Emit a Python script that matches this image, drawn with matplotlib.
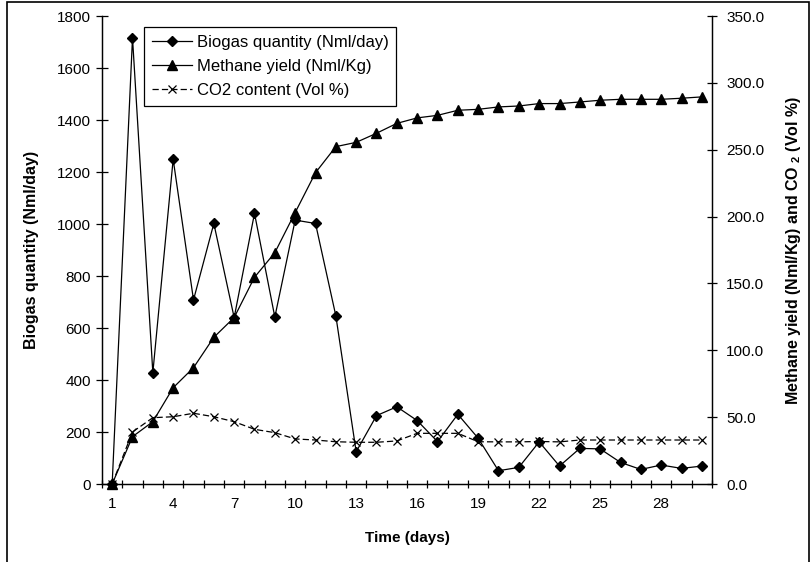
import matplotlib
matplotlib.use("Agg")
import matplotlib.pyplot as plt
from matplotlib.patches import Rectangle
from matplotlib.ticker import FixedLocator, FormatStrFormatter

plt.rcParams['font.family'] = ['Liberation Sans', 'DejaVu Sans']

# data
days = list(range(1, 31))
biogas = [0, 1716, 428, 1249, 708, 1002, 640, 1041, 642, 1015, 1002, 647, 124, 263, 297,
          244, 163, 268, 176, 51, 64, 162, 69, 137, 135, 83, 56, 73, 60, 69]
methane = [0, 35.4, 46.6, 72.0, 87.0, 109.7, 124.5, 154.6, 173.0, 203.0, 232.8, 252.3, 255.5,
           262.3, 269.7, 273.8, 275.7, 279.5, 280.2, 282.0, 282.7, 284.5, 284.5, 285.7, 287.0,
           287.7, 287.7, 287.7, 288.5, 289.5]
co2 = [0, 38.9, 49.6, 50.3, 52.9, 50.3, 46.6, 40.9, 38.4, 33.7, 32.9, 31.6, 31.2, 31.2, 32.2,
       37.9, 37.9, 37.9, 31.6, 31.5, 31.5, 31.8, 31.5, 32.9, 32.9, 32.9, 32.9, 32.9, 32.9, 32.9]
xlabels = [1, 4, 7, 10, 13, 16, 19, 22, 25, 28]

fig = plt.figure(figsize=(8.11, 5.62), dpi=100)
ax = fig.add_axes([102 / 811, 1 - 484 / 562, 610 / 811, 468 / 562])
ax2 = ax.twinx()

l1, = ax.plot(days, biogas, color='black', lw=0.9, marker='D', ms=5, clip_on=False,
              label='Biogas quantity (Nml/day)', zorder=3)
l2, = ax2.plot(days, methane, color='black', lw=0.9, marker='^', ms=6.5, clip_on=False,
               label='Methane yield (Nml/Kg)', zorder=3)
l3, = ax2.plot(days, co2, color='black', lw=0.9, ls=(0, (5, 2.5)), marker='x', ms=6,
               mew=0.9, clip_on=False, label='CO2 content (Vol %)', zorder=3)

ax.set_xlim(0.5, 30.5)
ax.set_ylim(0, 1800)
ax2.set_ylim(0, 350)
ax.set_yticks(range(0, 1801, 200))
ax2.set_yticks(range(0, 351, 50))
ax2.yaxis.set_major_formatter(FormatStrFormatter('%.1f'))

ax.set_xticks(xlabels)
ax.xaxis.set_minor_locator(FixedLocator([d + 0.5 for d in [0] + days]))
ax.tick_params(axis='x', which='major', length=0, pad=9, labelsize=11)
ax.tick_params(axis='x', which='minor', direction='inout', length=6, width=0.9)
ax.tick_params(axis='y', direction='inout', length=8, width=0.9, pad=4, labelsize=11)
ax2.tick_params(axis='y', direction='inout', length=6.5, width=0.9, pad=7, labelsize=11)

for a in (ax, ax2):
    a.spines['top'].set_visible(False)
    for s in ('left', 'right', 'bottom'):
        a.spines[s].set_linewidth(0.9)

ax.set_xlabel('Time (days)', fontsize=11, fontweight='bold')
ax.xaxis.set_label_coords(0.5, -0.1)
ax.set_ylabel('Biogas quantity (Nml/day)', fontsize=11.5, fontweight='bold')
ax.yaxis.set_label_coords(-0.104, 0.5)
ax2.set_ylabel(r'Methane yield (Nml/Kg) and CO $_{\mathregular{2}}$ (Vol %)',
               fontsize=11.5, fontweight='bold', rotation=90)
ax2.yaxis.set_label_coords(1.118, 0.5)

leg = ax2.legend(handles=[l1, l2, l3], loc='upper left', bbox_to_anchor=(0.069, 0.976),
                 borderaxespad=0, fontsize=12, fancybox=False, framealpha=1,
                 edgecolor='black', handlelength=2.4, labelspacing=0.55,
                 borderpad=0.45, handletextpad=0.3)
leg.get_frame().set_linewidth(0.9)

fig.patches.append(Rectangle((7 / 811, -0.1), 802 / 811, 1.1 - 2 / 562, fill=False,
                             lw=1.2, edgecolor='black', transform=fig.transFigure))

fig.savefig('out.png', dpi=100)
